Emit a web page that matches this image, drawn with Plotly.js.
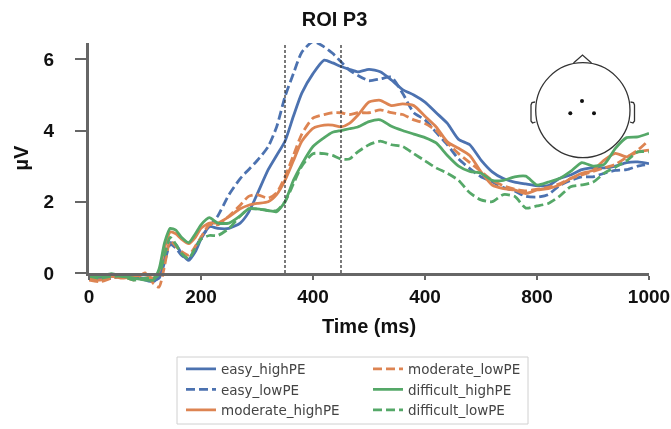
<!DOCTYPE html>
<html><head><meta charset="utf-8">
<script src="https://cdn.plot.ly/plotly-3.0.0.min.js"></script>
<style>html,body{margin:0;padding:0;background:#fff}#c{width:671px;height:429px;filter:blur(0.45px)}</style>
</head><body><div id="c"></div>
<script>
const time=[0,20,40,60,80,100,115,125,135,145,155,165,178,190,200,215,230,250,270,285,300,320,335,350,365,380,400,420,435,450,465,480,500,520,540,560,580,600,620,640,660,680,700,720,740,760,780,800,820,840,860,880,900,920,940,960,980,1000];
const easy_highPE=[-0.1,-0.15,-0.1,-0.1,-0.1,-0.2,-0.25,-0.1,0.4,0.85,0.8,0.55,0.35,0.6,0.95,1.3,1.25,1.25,1.4,1.7,2.2,2.9,3.3,3.7,4.4,5.05,5.6,5.98,5.9,5.8,5.72,5.65,5.72,5.65,5.42,5.15,5.0,4.8,4.5,4.2,3.75,3.6,3.17,2.84,2.65,2.55,2.5,2.45,2.45,2.65,2.75,2.9,2.95,2.95,3.0,3.1,3.12,3.07];
const easy_lowPE=[-0.15,-0.2,-0.15,-0.1,-0.15,-0.15,-0.2,-0.15,0.3,0.8,0.7,0.5,0.38,0.7,1.0,1.3,1.6,2.2,2.65,2.9,3.15,3.55,4.1,4.95,5.6,6.2,6.5,6.35,6.17,5.93,5.7,5.55,5.4,5.45,5.5,5.05,4.5,4.3,3.95,3.6,3.2,2.93,2.7,2.56,2.4,2.3,2.15,2.13,2.2,2.45,2.6,2.7,2.7,2.8,2.88,2.9,3.0,3.05];
const moderate_highPE=[-0.15,-0.2,-0.1,-0.15,-0.1,-0.05,-0.15,0.05,0.7,1.15,1.1,0.95,0.82,1.0,1.25,1.4,1.4,1.58,1.8,1.9,1.95,2.0,2.2,2.6,3.15,3.7,4.06,4.15,4.15,4.1,4.2,4.43,4.8,4.85,4.7,4.75,4.7,4.4,4.1,3.68,3.5,3.3,2.84,2.47,2.37,2.33,2.23,2.33,2.37,2.47,2.65,2.8,2.88,3.17,3.36,3.26,3.4,3.45];
const moderate_lowPE=[-0.2,-0.25,-0.15,-0.1,-0.2,0.0,-0.3,-0.4,0.2,0.9,0.75,0.6,0.5,0.75,1.0,1.35,1.35,1.6,1.9,2.15,2.2,2.1,2.25,2.7,3.3,3.9,4.35,4.45,4.5,4.5,4.45,4.5,4.5,4.58,4.5,4.45,4.3,4.2,4.0,3.65,3.35,3.1,2.85,2.6,2.45,2.35,2.3,2.35,2.4,2.5,2.65,2.75,2.85,2.95,3.05,3.25,3.45,3.73];
const difficult_highPE=[-0.05,-0.1,-0.02,-0.1,-0.15,-0.2,-0.2,0.1,0.85,1.25,1.2,1.0,0.85,1.1,1.35,1.55,1.4,1.4,1.6,1.8,1.8,1.75,1.72,2.0,2.6,3.05,3.55,3.8,3.95,4.0,4.05,4.1,4.25,4.3,4.12,4.0,3.9,3.8,3.65,3.3,3.0,2.85,2.8,2.6,2.6,2.7,2.72,2.47,2.55,2.65,2.85,3.1,3.0,3.05,3.5,3.8,3.82,3.92];
const difficult_lowPE=[-0.1,-0.15,-0.1,-0.1,-0.2,-0.15,-0.15,-0.05,0.5,1.0,0.8,0.55,0.4,0.7,0.95,1.05,1.05,1.25,1.6,1.8,1.8,1.75,1.75,2.0,2.5,3.0,3.35,3.35,3.3,3.2,3.2,3.4,3.6,3.7,3.6,3.55,3.35,3.15,2.95,2.8,2.6,2.25,2.05,2.0,2.2,2.15,1.82,1.88,1.95,2.15,2.42,2.47,2.55,2.8,2.97,3.15,3.4,3.4];
const names=['easy_highPE','easy_lowPE','moderate_highPE','moderate_lowPE','difficult_highPE','difficult_lowPE'];
const seriesValues=[easy_highPE,easy_lowPE,moderate_highPE,moderate_lowPE,difficult_highPE,difficult_lowPE];
const colors=['#4c72b0','#4c72b0','#dd8452','#dd8452','#55a868','#55a868'];
const dashes=['solid','9px,4px','solid','9px,4px','solid','9px,4px'];
const legendIds=['legend','legend','legend','legend2','legend2','legend2'];
const xTicks=[0,200,400,600,800,1000];
const xTickLabels=['0','200','400','400','800','1000'];
const yTicks=[0,2,4,6];
const windowLines=[350,450];

const traces=names.map((n,i)=>({type:'scatter',mode:'lines',name:n,x:time,y:seriesValues[i],xaxis:'x',yaxis:'y',legend:legendIds[i],
  line:{color:colors[i],width:2.8,dash:dashes[i],shape:'spline',smoothing:0.6},hoverinfo:'skip'}));
// holder so that the visible y axis is drawn
traces.push({type:'scatter',mode:'lines',x:[0],y:[0],xaxis:'x',yaxis:'y2',showlegend:false,hoverinfo:'skip',line:{color:'rgba(0,0,0,0)'}});

const W=671,H=429,L=89,R=22,T=43,B=0;
const px=v=>(v-L)/(W-L-R), py=v=>1-(v-T)/(H-T-B);
const axisBottomFraction=py(273);
const ink={color:'#333',width:1.3};
const shapes=[];
windowLines.forEach(v=>shapes.push({type:'line',xref:'x',yref:'y2',x0:v,x1:v,y0:0,y1:6.46,line:{color:'#333',width:1.3,dash:'3px,2px'}}));
const P=(pts,close)=>'M'+pts.map(p=>px(p[0])+','+py(p[1])).join('L')+(close?'Z':'');
const refs={xref:'paper',yref:'paper'};
shapes.push({type:'circle',...refs,x0:px(535.7),x1:px(630),y0:py(157.7),y1:py(62.7),line:ink,fillcolor:'rgba(0,0,0,0)'});
shapes.push({type:'path',...refs,path:P([[573.5,63],[582.5,55],[591.5,63]]),line:ink});
shapes.push({type:'path',...refs,path:P([[535,102],[532,102.5],[531,105],[531,121],[532.5,123],[535.5,122]]),line:ink});
shapes.push({type:'path',...refs,path:P([[630.5,102],[633.5,102.5],[634.5,105],[634.5,121],[633,123],[630,122]]),line:ink});
[[582,101],[570.3,113.3],[594,113.3]].forEach(e=>shapes.push({type:'circle',...refs,x0:px(e[0]-2),x1:px(e[0]+2),y0:py(e[1]+2),y1:py(e[1]-2),fillcolor:'#111',line:{width:0}}));
shapes.push({type:'rect',...refs,x0:px(177),x1:px(528),y0:py(424),y1:py(357),line:{color:'#d0d0d0',width:1},fillcolor:'rgba(0,0,0,0)'});

const sans='Liberation Sans, Arial, sans-serif';
const tickFont={family:sans,size:19,color:'#111',weight:700};
const legendBase={orientation:'v',xanchor:'left',yanchor:'bottom',borderwidth:0,bgcolor:'rgba(0,0,0,0)',font:{family:'DejaVu Sans, sans-serif',size:13.5,color:'#444'}};
const layout={width:W,height:H,margin:{l:L,r:R,t:T,b:B,pad:0},paper_bgcolor:'#fff',plot_bgcolor:'rgba(0,0,0,0)',showlegend:true,
  title:{text:'<b>ROI P3</b>',x:0.4985,xanchor:'center',y:0.9557,yanchor:'middle',font:{family:sans,size:20,color:'#111'}},
  xaxis:{range:[0,1000],anchor:'y2',tickvals:xTicks,ticktext:xTickLabels,ticks:'outside',ticklen:4,tickwidth:2,tickcolor:'#666',ticklabelstandoff:0,showline:true,linecolor:'#666',linewidth:3,showgrid:false,zeroline:false,tickfont:tickFont,automargin:false,
    title:{text:'<b>Time (ms)</b>',standoff:14,font:{family:sans,size:20,color:'#111'}}},
  yaxis:{range:[-(H-B-273)/35.55,6.46],domain:[0,1],anchor:'x',visible:false},
  yaxis2:{range:[0,6.46],domain:[axisBottomFraction,1],anchor:'x',tickvals:yTicks,ticktext:yTicks.map(String),ticks:'outside',ticklen:11,tickwidth:2,tickcolor:'#666',ticklabelstandoff:17,showline:true,linecolor:'#666',linewidth:3,showgrid:false,zeroline:false,tickfont:tickFont,automargin:false,
    title:{text:'<b>µV</b>',standoff:10,font:{family:sans,size:20,color:'#111'}}},
  legend:{...legendBase,x:px(181),y:py(425.5)},
  legend2:{...legendBase,x:px(368),y:py(425.5)},
  shapes};
Plotly.newPlot('c',traces,layout,{displayModeBar:false,staticPlot:true});
</script></body></html>
